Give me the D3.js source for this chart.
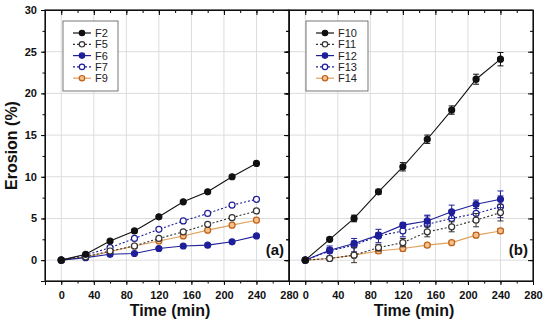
<!DOCTYPE html>
<html>
<head>
<meta charset="utf-8" />
<title>Erosion</title>
<script src="https://d3js.org/d3.v7.min.js"></script>
<style>
  body { margin: 0; background: #fff; }
  text { font-family: "Liberation Sans", Arial, sans-serif; font-weight: bold; }
  text.leg { font-weight: normal; }
</style>
</head>
<body>
<script>
// time points (min)
const times = [0, 30, 60, 90, 120, 150, 180, 210, 240];

// panel (a)
const seriesA = ["F2", "F5", "F6", "F7", "F9"];
const F2 = [0, 0.7, 2.3, 3.5, 5.2, 7.0, 8.2, 10.0, 11.6];
const F5 = [0, 0.4, 1.1, 1.7, 2.6, 3.4, 4.3, 5.1, 5.9];
const F6 = [0, 0.3, 0.7, 0.8, 1.4, 1.7, 1.8, 2.2, 2.9];
const F7 = [0, 0.6, 1.5, 2.6, 3.7, 4.7, 5.6, 6.6, 7.3];
const F9 = [0, 0.4, 1.0, 1.7, 2.3, 2.9, 3.6, 4.2, 4.8];

// panel (b) with standard deviations
const seriesB = ["F10", "F11", "F12", "F13", "F14"];
const F10 = [0, 2.5, 5.0, 8.2, 11.2, 14.5, 18.0, 21.7, 24.1];
const F10err = [0, 0.2, 0.4, 0.3, 0.5, 0.5, 0.5, 0.6, 0.8];
const F11 = [0, 0.2, 0.6, 1.5, 2.1, 3.4, 4.0, 4.8, 5.7];
const F11err = [0, 0.2, 0.9, 0.4, 0.5, 0.6, 0.6, 0.8, 1.0];
const F12 = [0, 1.2, 2.0, 3.0, 4.2, 4.7, 5.8, 6.7, 7.3];
const F12err = [0, 0.3, 0.3, 0.3, 0.3, 0.6, 0.8, 0.5, 1.0];
const F13 = [0, 1.1, 1.8, 2.9, 3.5, 4.3, 5.0, 5.6, 6.4];
const F13err = [0, 0.6, 0.8, 0.8, 0.7, 1.1, 1.0, 0.9, 1.3];
const F14 = [0, 0.2, 0.6, 1.1, 1.4, 1.8, 2.1, 3.0, 3.5];
const F14err = [0, 0.1, 0.2, 0.3, 0.3, 0.2, 0.2, 0.3, 0.3];

const xTicks = [0, 40, 80, 120, 160, 200, 240, 280];
const yTicks = [0, 5, 10, 15, 20, 25, 30];

const styles = {
  F2:  {stroke: "#111", fill: "#111", dash: null},
  F5:  {stroke: "#333", fill: "#fff", dash: "2,2"},
  F6:  {stroke: "#1f1f9a", fill: "#1f1f9a", dash: null},
  F7:  {stroke: "#1f1f9a", fill: "#fff", dash: "2,2"},
  F9:  {stroke: "#e0a05a", fill: "#f3c08a", dash: null, mstroke: "#c0601a"},
  F10: {stroke: "#111", fill: "#111", dash: null},
  F11: {stroke: "#333", fill: "#fff", dash: "2,2"},
  F12: {stroke: "#1f1f9a", fill: "#1f1f9a", dash: null},
  F13: {stroke: "#1f1f9a", fill: "#fff", dash: "2,2"},
  F14: {stroke: "#e0a05a", fill: "#f3c08a", dash: null, mstroke: "#c0601a"}
};

const dataA = {F2, F5, F6, F7, F9};
const dataB = {F10, F11, F12, F13, F14};
const errB = {F10: F10err, F11: F11err, F12: F12err, F13: F13err, F14: F14err};

const W = 550, H = 325;
const plotTop = 10, plotBottom = 281;
const svg = d3.select("body").append("svg").attr("width", W).attr("height", H);

const y = d3.scaleLinear().domain([-2.5, 30]).range([plotBottom, plotTop]);

function panel(x0, x1, names, data, err, tag, showYLabels) {
  const x = d3.scaleLinear().domain([-20, 280]).range([x0, x1]);
  const g = svg.append("g");

  // grid
  g.selectAll(".gx").data(xTicks.filter(t => t > -20 && t < 280)).join("line")
    .attr("x1", d => x(d)).attr("x2", d => x(d)).attr("y1", plotTop).attr("y2", plotBottom)
    .attr("stroke", "#dcdcdc").attr("stroke-width", 1);
  g.selectAll(".gy").data(yTicks.filter(t => t < 30)).join("line")
    .attr("x1", x0).attr("x2", x1).attr("y1", d => y(d)).attr("y2", d => y(d))
    .attr("stroke", "#dcdcdc").attr("stroke-width", 1);

  // axes
  const minorX = d3.range(-20, 281, 20);
  const minorY = d3.range(-2.5, 30.1, 2.5);
  g.append("g").attr("transform", `translate(0,${plotBottom})`)
    .call(d3.axisBottom(x).tickValues(minorX).tickSize(2.5).tickFormat(""));
  g.append("g").attr("transform", `translate(0,${plotBottom})`)
    .call(d3.axisBottom(x).tickValues(xTicks).tickSize(4).tickPadding(6).tickFormat(d3.format("d")))
    .call(a => a.selectAll("text").attr("font-size", 11).attr("fill", "#111"));
  g.append("g").attr("transform", `translate(0,${plotTop})`)
    .call(d3.axisBottom(x).tickValues(minorX).tickSize(3).tickFormat(""));
  g.append("g").attr("transform", `translate(0,${plotTop})`)
    .call(d3.axisBottom(x).tickValues(xTicks).tickSize(5).tickFormat(""));
  g.append("g").attr("transform", `translate(${x0},0)`)
    .call(d3.axisLeft(y).tickValues(minorY).tickSize(2.5).tickFormat(""));
  g.append("g").attr("transform", `translate(${x0},0)`)
    .call(d3.axisLeft(y).tickValues(yTicks).tickSize(4).tickPadding(4)
      .tickFormat(showYLabels ? d3.format("d") : ""))
    .call(a => a.selectAll("text").attr("font-size", 11).attr("fill", "#111"));
  g.append("g").attr("transform", `translate(${x1},0)`)
    .call(d3.axisLeft(y).tickValues(minorY).tickSize(3).tickFormat(""));
  g.append("g").attr("transform", `translate(${x1},0)`)
    .call(d3.axisLeft(y).tickValues(yTicks).tickSize(5).tickFormat(""));
  g.selectAll(".domain").attr("stroke", "#111");

  g.append("rect").attr("x", x0).attr("y", plotTop).attr("width", x1 - x0).attr("height", plotBottom - plotTop)
    .attr("fill", "none").attr("stroke", "#111").attr("stroke-width", 1.2);

  const line = d3.line().x((d, i) => x(times[i])).y(d => y(d));
  // draw back-to-front so that first series lies on top
  names.slice().reverse().forEach(n => {
    const s = styles[n];
    const vals = data[n];
    const sg = g.append("g");
    sg.append("path").datum(vals).attr("d", line).attr("fill", "none")
      .attr("stroke", s.stroke).attr("stroke-width", 1.1)
      .attr("stroke-dasharray", s.dash);
    if (err) {
      const e = err[n];
      sg.selectAll(".eb").data(vals).join("path")
        .attr("d", (d, i) => {
          const xx = x(times[i]), y1 = y(d + e[i]), y2 = y(d - e[i]);
          return `M${xx - 3},${y1}H${xx + 3}M${xx},${y1}V${y2}M${xx - 3},${y2}H${xx + 3}`;
        })
        .attr("fill", "none").attr("stroke", s.mstroke || s.stroke).attr("stroke-width", 1);
    }
    sg.selectAll("circle").data(vals).join("circle")
      .attr("cx", (d, i) => x(times[i])).attr("cy", d => y(d)).attr("r", 3)
      .attr("fill", s.fill).attr("stroke", s.mstroke || s.stroke).attr("stroke-width", 1.2);
  });

  // legend
  const lx = x0 + (showYLabels ? 18 : 17), ly = 21;
  const lw = showYLabels ? 55 : 62;
  const lg = g.append("g");
  lg.append("rect").attr("x", lx).attr("y", ly).attr("width", lw).attr("height", 70)
    .attr("fill", "#fff").attr("stroke", "#555").attr("stroke-width", 0.8);
  names.forEach((n, i) => {
    const s = styles[n];
    const cy = ly + 12 + i * 11.3;
    lg.append("line").attr("x1", lx + 10).attr("x2", lx + 28).attr("y1", cy).attr("y2", cy)
      .attr("stroke", s.stroke).attr("stroke-width", 1.2).attr("stroke-dasharray", s.dash);
    lg.append("circle").attr("cx", lx + 19).attr("cy", cy).attr("r", 2.7)
      .attr("fill", s.fill).attr("stroke", s.mstroke || s.stroke).attr("stroke-width", 1.2);
    lg.append("text").attr("class", "leg").attr("x", lx + 32).attr("y", cy + 4).attr("font-size", 11)
      .attr("fill", "#222").text(n);
  });

  g.append("text").attr("x", x1 - 5).attr("y", 255).attr("text-anchor", "end")
    .attr("font-size", 15).attr("fill", "#111").text(tag);

  g.append("text").attr("x", (x0 + x1) / 2 + 3).attr("y", 316).attr("text-anchor", "middle")
    .attr("font-size", 16).attr("fill", "#111").text("Time (min)");
}

panel(45, 289, seriesA, dataA, null, "(a)", true);
panel(289, 533, seriesB, dataB, errB, "(b)", false);

svg.append("text").attr("transform", `translate(17,${(plotTop + plotBottom) / 2}) rotate(-90)`)
  .attr("text-anchor", "middle").attr("font-size", 16).attr("fill", "#111").text("Erosion (%)");
</script>
</body>
</html>
